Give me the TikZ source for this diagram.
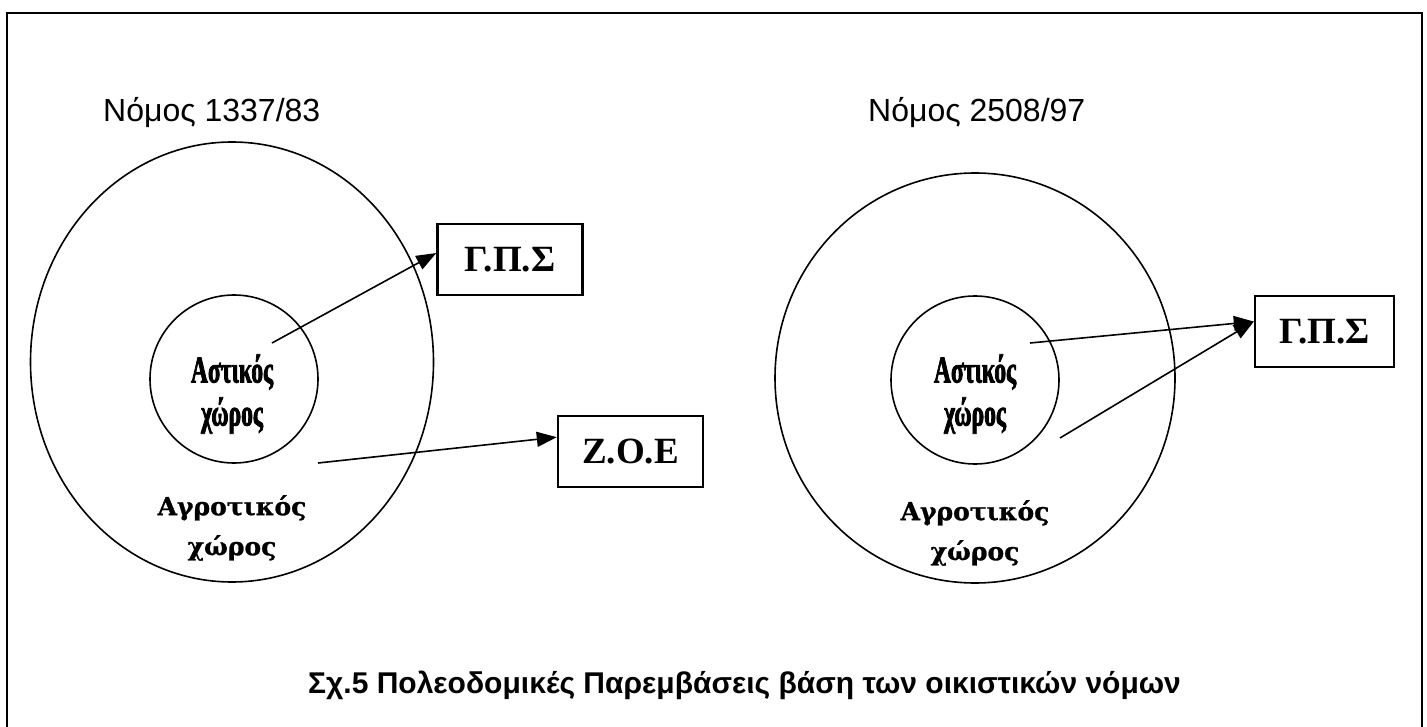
\documentclass[tikz,border=0pt]{standalone}
\usepackage{fontspec}
\setmainfont{Liberation Serif}
\newfontfamily\lawfont{Liberation Sans}
\newfontfamily\zonefont[FakeBold=1]{DejaVu Serif Bold}
\newfontfamily\urbanfont[FakeStretch=0.62,FakeBold=2]{Liberation Serif Bold}
\usetikzlibrary{arrows.meta,shapes.geometric}
\begin{document}
\begin{tikzpicture}[x=1pt,y=-1pt,
  frameline/.style={line width=2.6pt},
  ring/.style={draw,ellipse,line width=1.6pt,inner sep=0pt},
  core/.style={draw,circle,line width=1.6pt,inner sep=0pt,minimum size=168pt},
  planbox/.style={draw,line width=2.4pt,minimum width=145pt,minimum height=71pt,
    inner sep=0pt,font=\fontsize{37}{42}\selectfont\bfseries},
  lawtext/.style={anchor=base west,inner sep=0pt,font=\lawfont\fontsize{32}{38}\selectfont},
  urbantext/.style={align=center,inner sep=0pt,font=\urbanfont\fontsize{38}{43}\selectfont},
  ruraltext/.style={align=center,inner sep=0pt,font=\zonefont\fontsize{25}{40}\selectfont},
  link/.style={line width=1.6pt,-{Triangle[length=20pt,width=15pt]}}]
\useasboundingbox (0,0) rectangle (1427,727);
% open frame (no bottom edge)
\draw[frameline] (7,727) -- (7,13) -- (1422,13) -- (1422,727);

% law headings
\node[lawtext] (law1) at (103,122) {Νόμος 1337/83};
\node[lawtext] (law2) at (868,122) {Νόμος 2508/97};

% left scheme
\node[ring,minimum width=403pt,minimum height=440pt] (outer1) at (232,362) {};
\node[core] (inner1) at (234,379) {};
\node[urbantext] (urban1) at (232,394) {Αστικός\\χώρος};
\node[ruraltext] (rural1) at (232,528) {Αγροτικός\\χώρος};
\node[planbox] (gps1) at (510,259.5) {Γ.Π.Σ};
\node[planbox] (zoe) at (630.5,451.5) {Z.O.E};
\coordinate (s1) at (272,343);
\coordinate (s2) at (318,463);
\draw[link] (s1) -- (gps1.175);
\draw[link] (s2) -- (zoe.169);

% right scheme
\node[ring,minimum width=400pt,minimum height=410pt] (outer2) at (975,378) {};
\node[core] (inner2) at (975,380) {};
\node[urbantext] (urban2) at (975,394) {Αστικός\\χώρος};
\node[ruraltext] (rural2) at (975,533) {Αγροτικός\\χώρος};
\node[planbox,minimum width=139pt] (gps2) at (1324.5,331.5) {Γ.Π.Σ};
\coordinate (s3) at (1030,343);
\coordinate (s4) at (1060,438);
\draw[link] (s3) -- (gps2.172);
\draw[link] (s4) -- (gps2.172);

% caption
\node[anchor=base west,inner sep=0pt,font=\lawfont\bfseries\fontsize{30}{36}\selectfont] (caption) at (308,693)
  {Σχ.5 Πολεοδομικές Παρεμβάσεις βάση των οικιστικών νόμων};
\end{tikzpicture}
\end{document}
